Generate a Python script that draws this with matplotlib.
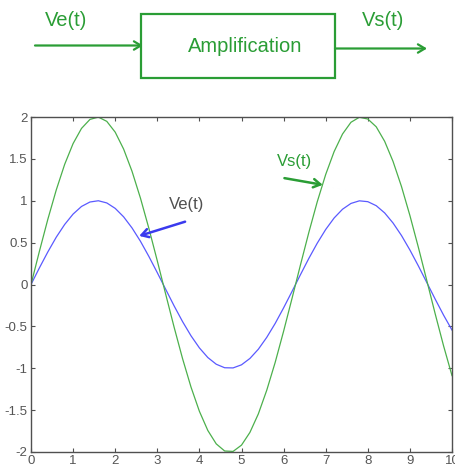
import numpy as np
import matplotlib
matplotlib.use('Agg')
from matplotlib import pyplot as plt
from matplotlib.patches import Rectangle, FancyArrowPatch

plt.rcParams['font.family'] = ['Liberation Sans', 'DejaVu Sans']

# donnees (pas de 0.2)
t = [0.0, 0.2, 0.4, 0.6, 0.8, 1.0, 1.2, 1.4, 1.6, 1.8,
     2.0, 2.2, 2.4, 2.6, 2.8, 3.0, 3.2, 3.4, 3.6, 3.8,
     4.0, 4.2, 4.4, 4.6, 4.8, 5.0, 5.2, 5.4, 5.6, 5.8,
     6.0, 6.2, 6.4, 6.6, 6.8, 7.0, 7.2, 7.4, 7.6, 7.8,
     8.0, 8.2, 8.4, 8.6, 8.8, 9.0, 9.2, 9.4, 9.6, 9.8, 10.0]
ve = [0.0, 0.199, 0.389, 0.565, 0.717, 0.841, 0.932, 0.985, 1.0, 0.974,
      0.909, 0.808, 0.675, 0.516, 0.335, 0.141, -0.058, -0.256, -0.443, -0.612,
      -0.757, -0.872, -0.952, -0.994, -0.996, -0.959, -0.883, -0.773, -0.631, -0.465,
      -0.279, -0.083, 0.117, 0.312, 0.494, 0.657, 0.794, 0.899, 0.968, 0.999,
      0.989, 0.941, 0.855, 0.734, 0.585, 0.412, 0.223, 0.025, -0.174, -0.366, -0.544]
vs = [0.0, 0.397, 0.779, 1.129, 1.435, 1.683, 1.864, 1.971, 1.999, 1.948,
      1.819, 1.617, 1.351, 1.031, 0.670, 0.282, -0.117, -0.511, -0.885, -1.224,
      -1.514, -1.743, -1.903, -1.988, -1.993, -1.918, -1.766, -1.545, -1.262, -0.930,
      -0.558, -0.166, 0.233, 0.623, 0.989, 1.314, 1.587, 1.797, 1.937, 1.997,
      1.976, 1.883, 1.710, 1.469, 1.170, 0.824, 0.446, 0.050, -0.349, -0.733, -1.088]

xticks = list(range(0, 11))
yticks = [-2, -1.5, -1, -0.5, 0, 0.5, 1, 1.5, 2]
ytick_labels = ['-2', '-1.5', '-1', '-0.5', '0', '0.5', '1', '1.5', '2']

W, H = 456, 470
dg = '#2a9d35'   # vert du schema
lg = '#4cb04c'   # vert de la courbe
bl = '#5a5aff'
gray = '#505050'

fig = plt.figure(figsize=(W / 100, H / 100), dpi=100)

### schema bloc en haut
top = fig.add_axes([0, 0, 1, 1])
top.set_xlim(0, W)
top.set_ylim(H, 0)
top.axis('off')
top.add_patch(Rectangle((141, 14), 194, 64, fill=False, ec=dg, lw=1.6))
top.add_patch(FancyArrowPatch((35, 45.5), (143, 45.5), arrowstyle='->,head_length=5,head_width=3',
                              color=dg, lw=1.6, shrinkA=0, shrinkB=0))
top.add_patch(FancyArrowPatch((335, 48.5), (427, 48.5), arrowstyle='->,head_length=5,head_width=3',
                              color=dg, lw=1.6, shrinkA=0, shrinkB=0))
top.text(245, 46, 'Amplification', color=dg, fontsize=14.5, ha='center', va='center')
top.text(66, 20, 'Ve(t)', color=dg, fontsize=14.5, ha='center', va='center')
top.text(383, 20, 'Vs(t)', color=dg, fontsize=14.5, ha='center', va='center')

### courbes
ax = fig.add_axes([31 / W, 1 - 452 / H, 421 / W, 335 / H])
ax.plot(t, ve, color=bl, lw=0.9)
ax.plot(t, vs, color=lg, lw=0.9)
ax.set_xlim(0, 10)
ax.set_ylim(-2, 2)
ax.set_xticks(xticks)
ax.set_yticks(yticks)
ax.set_yticklabels(ytick_labels)
ax.tick_params(direction='in', length=3, width=0.8, color=gray, labelcolor='#555555',
               labelsize=9.5, top=True, right=True, pad=2.5)
for s in ax.spines.values():
    s.set_color(gray)
    s.set_linewidth(1.0)

ax.annotate('', xy=(6.93, 1.19), xytext=(6.02, 1.27),
            arrowprops=dict(arrowstyle='->,head_length=0.5,head_width=0.3', color='#2a9d35', lw=1.8,
                            shrinkA=0, shrinkB=0))
ax.text(6.25, 1.47, 'Vs(t)', color=dg, fontsize=12, ha='center', va='center')
ax.annotate('', xy=(2.57, 0.58), xytext=(3.66, 0.75),
            arrowprops=dict(arrowstyle='->,head_length=0.5,head_width=0.3', color='#3a3aee', lw=1.8,
                            shrinkA=0, shrinkB=0))
ax.text(3.70, 0.95, 'Ve(t)', color='#505050', fontsize=12, ha='center', va='center')

fig.savefig('out.png', dpi=100)
